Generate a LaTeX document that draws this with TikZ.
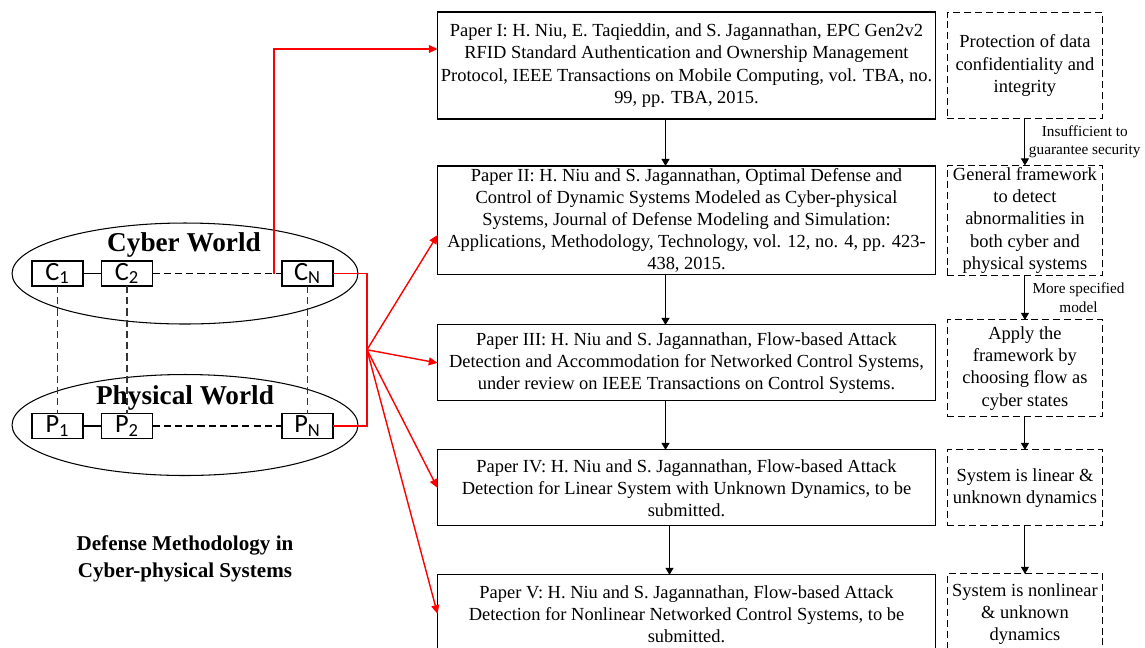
\documentclass[tikz,border=0pt]{standalone}
\usepackage{fontspec}
\setmainfont{Liberation Serif}
\newfontfamily\cellfont{Carlito}
\usetikzlibrary{arrows.meta, positioning, shapes.geometric, calc}

\begin{document}
\begin{tikzpicture}[
        x=0.02cm, y=-0.02cm,
        paper/.style={draw, rectangle, line width=0.6pt, minimum width=9.96cm, align=center, inner sep=0pt, outer sep=0pt, font=\fontsize{10.5}{12.6}\selectfont},
        note/.style={draw, dash pattern=on 4pt off 2.2pt, rectangle, line width=0.6pt, minimum width=3.1cm, align=center, inner sep=0pt, outer sep=0pt, font=\fontsize{10.5}{12.6}\selectfont},
        cell/.style={draw, rectangle, line width=0.6pt, minimum width=1.02cm, minimum height=0.5cm, inner sep=0pt, outer sep=0pt, font=\cellfont\fontsize{15}{15}\selectfont},
        world/.style={draw, ellipse, line width=0.6pt, minimum width=6.92cm, minimum height=2.02cm, inner sep=0pt},
        worldname/.style={font=\bfseries\fontsize{15.5}{16}\selectfont, inner sep=0pt},
        flow/.style={-{Triangle[length=4pt,width=4.5pt]}, line width=0.6pt},
        link/.style={red, line width=0.8pt},
        redflow/.style={link, -{Triangle[length=5pt,width=4.5pt]}},
        tie/.style={dash pattern=on 4pt off 2.4pt, line width=0.6pt, black!80},
        hint/.style={font=\fontsize{8.7}{10.4}\selectfont, align=center, inner sep=0pt}
    ]
    \useasboundingbox (0,0) rectangle (1145,647);

    % papers
    \node[paper, minimum height=2.14cm] (p1) at (686.5,65.5) {Paper I: H. Niu, E. Taqieddin, and S. Jagannathan, EPC Gen2v2\\RFID Standard Authentication and Ownership Management\\Protocol, IEEE Transactions on Mobile Computing, vol. TBA, no.\\99, pp. TBA, 2015.};
    \node[paper, minimum height=2.18cm, below=0.94cm of p1] (p2) {Paper II: H. Niu and S. Jagannathan, Optimal Defense and\\Control of Dynamic Systems Modeled as Cyber-physical\\Systems, Journal of Defense Modeling and Simulation:\\Applications, Methodology, Technology, vol. 12, no. 4, pp. 423-\\438, 2015.};
    \node[paper, minimum height=1.52cm, below=1.0cm of p2] (p3) {Paper III: H. Niu and S. Jagannathan, Flow-based Attack\\Detection and Accommodation for Networked Control Systems,\\under review on IEEE Transactions on Control Systems.};
    \node[paper, minimum height=1.52cm, below=0.98cm of p3] (p4) {Paper IV: H. Niu and S. Jagannathan, Flow-based Attack\\Detection for Linear System with Unknown Dynamics, to be\\submitted.};
    \node[paper, minimum height=1.56cm, below=0.98cm of p4] (p5) {Paper V: H. Niu and S. Jagannathan, Flow-based Attack\\Detection for Nonlinear Networked Control Systems, to be\\submitted.};

    % notes on the right
    \node[note, minimum height=2.12cm, right=0.24cm of p1] (r1) {Protection of data\\confidentiality and\\integrity};
    \node[note, minimum height=2.2cm, right=0.24cm of p2] (r2) {General framework\\to detect\\abnormalities in\\both cyber and\\physical systems};
    \node[note, minimum height=1.94cm, right=0.24cm of p3, yshift=-0.11cm] (r3) {Apply the\\framework by\\choosing flow as\\cyber states};
    \node[note, minimum height=1.52cm, right=0.24cm of p4] (r4) {System is linear \&\\unknown dynamics};
    \node[note, minimum height=1.6cm, right=0.24cm of p5] (r5) {System is nonlinear\\\& unknown\\dynamics};

    \foreach \a/\b in {p1/p2, p2/p3, p3/p4}
        \draw[flow] ([xshift=-0.42cm]\a.south) -- ([xshift=-0.42cm]\b.north);
    \draw[flow] ([xshift=-0.34cm]p4.south) -- ([xshift=-0.34cm]p5.north);

    \draw[flow] (r1) -- node[hint, right, xshift=2pt] {Insufficient to\\guarantee security} (r2);
    \draw[flow] (r2) -- node[hint, right, xshift=4pt] {More specified\\model} (r3);
    \draw[flow] (r3) -- (r4);
    \draw[flow] (r4) -- (r5);

    % cyber and physical worlds
    \node[world] (cyber) at (185,273.5) {};
    \node[world] (phys) at (185,425) {};

    \node[cell] (c1) at (57.5,273.5) {C\textsubscript{1}};
    \node[cell] (c2) at (127,273.5) {C\textsubscript{2}};
    \node[cell] (cN) at (307.5,273.5) {C\textsubscript{N}};
    \node[cell] (q1) at (57.5,426) {P\textsubscript{1}};
    \node[cell] (q2) at (127,426) {P\textsubscript{2}};
    \node[cell] (qN) at (307.5,426) {P\textsubscript{N}};

    \draw[line width=0.6pt] (c1) -- (c2);
    \draw[line width=0.6pt] (q1) -- (q2);
    \draw[tie, black] (c2) -- (cN);
    \draw[tie, black] (q2) -- (qN);
    \foreach \u/\v in {c1/q1, c2/q2, cN/qN}
        \draw[tie] (\u) -- (\v);

    \node[worldname] (cyberlbl) at (184,245) {Cyber World};
    \node[worldname] (physlbl) at (185,398) {Physical World};

    \node[font=\bfseries\fontsize{12}{15.4}\selectfont, align=center] (title) at (185,559) {Defense Methodology in\\Cyber-physical Systems};

    % red links
    \coordinate (tap) at ([xshift=-0.16cm]cN.west);
    \coordinate (hub) at ($(cN.east)!0.5!(qN.east) + (34,0)$);
    \draw[redflow] (tap) |- ([yshift=0.33cm]p1.west);
    \draw[link] (cN.east) -| (hub) |- (qN.east);
    \draw[redflow] (hub) -- ([yshift=-0.29cm]p2.west);
    \draw[redflow] (hub) -- (p3.west);
    \draw[redflow] (hub) -- (p4.west);
    \draw[redflow] (hub) -- (p5.west);
\end{tikzpicture}
\end{document}
